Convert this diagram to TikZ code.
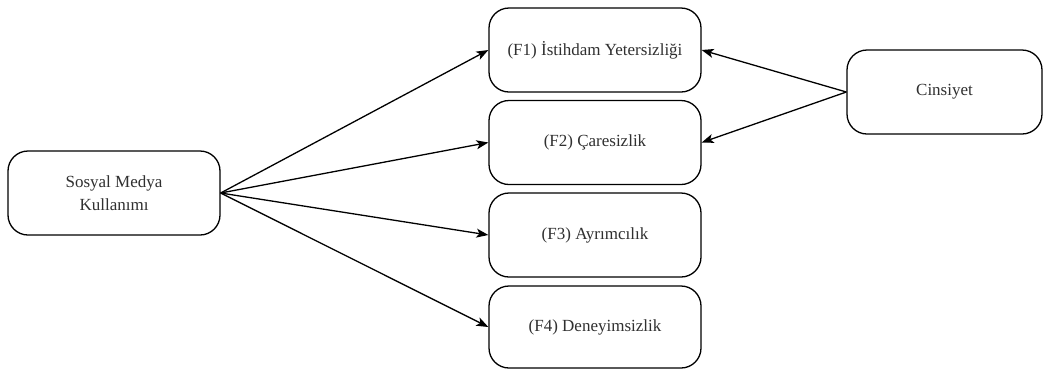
\documentclass[tikz,border=0pt]{standalone}
\usepackage{fontspec}
\setmainfont{Liberation Serif}
\usetikzlibrary{arrows.meta}
\definecolor{txt}{HTML}{303030}
\begin{document}
\begin{tikzpicture}[x=1pt,y=-1pt,
  box/.style={draw=black, line width=1.3pt, rounded corners=20pt, fill=white, text=txt,
    font=\fontsize{17}{23}\selectfont, align=center, inner sep=0pt},
  conn/.style={line width=1.3pt, -{Stealth[length=12pt,width=9pt,inset=3pt]}}]
\useasboundingbox (0,0) rectangle (1048,368);
\node[box, minimum width=212pt, minimum height=84pt] (smk) at (114,193) {Sosyal Medya\\Kullanımı};
\node[box, minimum width=212pt, minimum height=84pt] (f1) at (595,50) {(F1) İstihdam Yetersizliği};
\node[box, minimum width=212pt, minimum height=84pt] (f2) at (595,142.5) {(F2) Çaresizlik};
\node[box, minimum width=212pt, minimum height=84pt] (f3) at (595,235) {(F3) Ayrımcılık};
\node[box, minimum width=212pt, minimum height=82pt] (f4) at (595,327) {(F4) Deneyimsizlik};
\node[box, minimum width=195pt, minimum height=84pt] (cin) at (944.5,92) {Cinsiyet};
\draw[conn] (smk.east) -- (f1.west);
\draw[conn] (smk.east) -- (f2.west);
\draw[conn] (smk.east) -- (f3.west);
\draw[conn] (smk.east) -- (f4.west);
\draw[conn] (cin.west) -- (f1.east);
\draw[conn] (cin.west) -- (f2.east);
\end{tikzpicture}
\end{document}
